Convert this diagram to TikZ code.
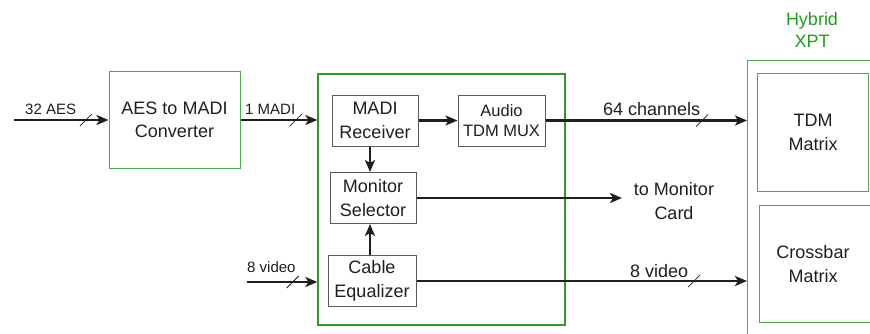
\documentclass[tikz,border=0pt]{standalone}
\usepackage{fontspec}
\setmainfont{Liberation Sans}
\usetikzlibrary{arrows.meta,calc}
\definecolor{framegreen}{HTML}{2E9A2E}
\definecolor{boxgreen}{HTML}{4CAA4C}
\definecolor{titlegreen}{HTML}{1E9E1E}
\definecolor{boxgray}{HTML}{5A5A5A}
\definecolor{ink}{HTML}{1E1E1E}
\begin{document}
\begin{tikzpicture}[x=1pt,y=-1pt,
  big/.style={font=\fontsize{18}{23.5}\selectfont},
  small/.style={font=\fontsize{15}{18}\selectfont},
  gbox/.style={draw=boxgreen, line width=1pt, inner sep=0pt, align=center, big, text=ink},
  graybox/.style={draw=boxgray, line width=1pt, inner sep=0pt, align=center, big, text=ink},
  sig/.style={draw=ink, line width=2.2pt, -{Stealth[length=12pt,width=10pt,inset=3pt]}},
  bus/.style={draw=ink, line width=0.8pt},
  lbl/.style={text=ink, inner sep=0pt},
]
\clip (0,0) rectangle (870,333);

% converter in front of the card
\node[gbox, minimum width=131pt, minimum height=97pt] (aes) at (174.5,120) {AES to MADI\\Converter};

% input card frame and its blocks
\node[draw=framegreen, line width=1.3pt, minimum width=247pt, minimum height=251pt, inner sep=0pt] (mod) at (441.5,199.5) {};
\node[graybox, minimum width=86pt, minimum height=51pt] (recv) at (375,120.5) {MADI\\Receiver};
\node[graybox, minimum width=87pt, minimum height=51pt, font=\fontsize{16.5}{19.5}\selectfont] (mux) at (501.5,120.5) {Audio\\TDM MUX};
\node[graybox, minimum width=86pt, minimum height=51pt] (mon) at (373,198) {Monitor\\Selector};
\node[graybox, minimum width=88pt, minimum height=51pt] (eq) at (372,281) {Cable\\Equalizer};

% hybrid crosspoint
\node[draw=boxgreen, line width=1pt, minimum width=160pt, minimum height=300pt, anchor=north west, inner sep=0pt] (xpt) at (747,60) {};
\node[big, text=titlegreen, align=center, font=\fontsize{18}{22}\selectfont] (xpttitle) at (812,30) {Hybrid\\XPT};
\node[gbox, minimum width=111pt, minimum height=118pt, anchor=north west] (tdm) at (757,73) {TDM\\Matrix};
\node[big, text=ink, align=center] (xbar) at (813,264) {Crossbar\\Matrix};
\draw[boxgreen, line width=1pt] (880,205) -- (759,205) -- (759,322) -- (880,322);

% free ends
\coordinate (aesin) at (14,120);
\coordinate (vin) at (247,282);
\coordinate (xv) at (370,0);
\coordinate (tomon) at (622,198);

% connectors
\draw[sig] (aesin) -- coordinate[pos=0.76] (s1) (aes.west);
\draw[sig] (aes.east) -- coordinate[pos=0.72] (s2) (aes.east -| mod.west);
\draw[sig] (vin) -- coordinate[pos=0.65] (s3) (vin -| mod.west);
\draw[sig] (recv) -- (mux);
\draw[sig] (recv.south -| xv) -- (mon.north -| xv);
\draw[sig] (eq.north -| xv) -- (mon.south -| xv);
\draw[sig] (mux.east) -- coordinate[pos=0.777] (s4) (mux.east -| xpt.west);
\draw[sig] (mon.east) -- (tomon);
\draw[sig] (eq.east) -- coordinate[pos=0.84] (s5) (eq.east -| xpt.west);

% bus-width marks
\foreach \s in {s1,s2,s3,s4,s5}
  \draw[bus] ($(\s)+(-6,6)$) -- ($(\s)+(6,-6)$);

% connector labels
\node[small, lbl, anchor=base west] (l32) at (25,114) {32 AES};
\node[small, lbl, anchor=base west] (l1m) at (245,114) {1 MADI};
\node[small, lbl, anchor=base west] (l8in) at (247,272) {8 video};
\node[big, lbl, anchor=base west] (l64) at (603,115) {64 channels};
\node[big, lbl, anchor=base west] (l8out) at (630,277) {8 video};
\node[big, lbl, align=center] (lmon) at (674,201) {to Monitor\\Card};
\end{tikzpicture}
\end{document}
